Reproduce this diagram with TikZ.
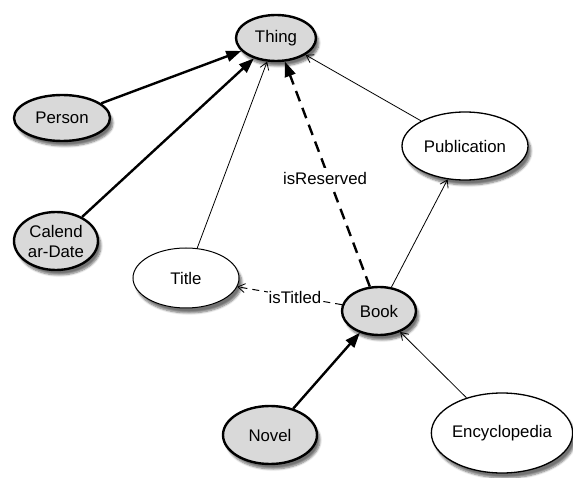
\documentclass[tikz,border=0pt]{standalone}
\usepackage{fontspec}
\setmainfont{Liberation Sans}
\usetikzlibrary{shapes.geometric,arrows.meta,shadows.blur}
\definecolor{nodegray}{RGB}{217,217,217}
\tikzset{
  cls/.style={ellipse, draw=black, inner sep=0pt, font=\fontsize{16.8}{19}\selectfont,
    blur shadow={shadow xshift=3pt, shadow yshift=-5pt, shadow blur steps=6, shadow opacity=55}},
  grayc/.style={cls, fill=nodegray, line width=2.4pt},
  whitec/.style={cls, fill=white, line width=1.3pt},
  isa/.style={line width=2.4pt, -{Triangle[length=15pt,width=11pt]}},
  sub/.style={line width=0.8pt, -{Straight Barb[length=7pt,width=9pt,line width=0.8pt]}},
  rel/.style={line width=2.4pt, dash pattern=on 11pt off 7pt, -{Triangle[length=15pt,width=11pt]}},
  relthin/.style={line width=1pt, dash pattern=on 7pt off 5pt, -{Straight Barb[length=7pt,width=9pt,line width=0.8pt]}},
  lbl/.style={fill=white, inner sep=1pt, font=\fontsize{16.8}{19}\selectfont}
}
\begin{document}
\begin{tikzpicture}[x=1pt,y=-1pt]
\useasboundingbox (0,0) rectangle (573,478);
\node[grayc, minimum width=80pt, minimum height=46pt] (thing) at (276,38) {Thing};
\node[grayc, minimum width=96pt, minimum height=46pt] (person) at (62,118) {Person};
\node[grayc, minimum width=84pt, minimum height=58pt, align=center, font=\fontsize{16.8}{20}\selectfont] (cal) at (56,241) {Calend\\ar-Date};
\node[whitec, line width=1pt, minimum width=106pt, minimum height=60pt] (title) at (186,278) {Title};
\node[grayc, minimum width=74pt, minimum height=48pt] (book) at (379,311) {Book};
\node[grayc, minimum width=94pt, minimum height=58pt] (novel) at (270,435) {Novel};
\node[whitec, minimum width=140pt, minimum height=80pt] (ency) at (502,433) {Encyclopedia};
\node[whitec, minimum width=126pt, minimum height=68pt] (pub) at (465,146) {Publication};

\draw[isa] (person) -- (thing);
\draw[isa] (cal) -- (thing);
\draw[sub] (title) -- (thing);
\draw[sub] (pub) -- (thing);
\draw[sub] (book) -- (pub);
\draw[sub] (ency) -- (book);
\draw[isa] (novel) -- (book);
\draw[rel] (book) -- node[lbl, pos=0.48, xshift=-4pt, inner ysep=4pt] {isReserved} (thing);
\draw[relthin] (book) -- node[lbl, pos=0.42, xshift=-3pt] {isTitled} (title);
\end{tikzpicture}
\end{document}
